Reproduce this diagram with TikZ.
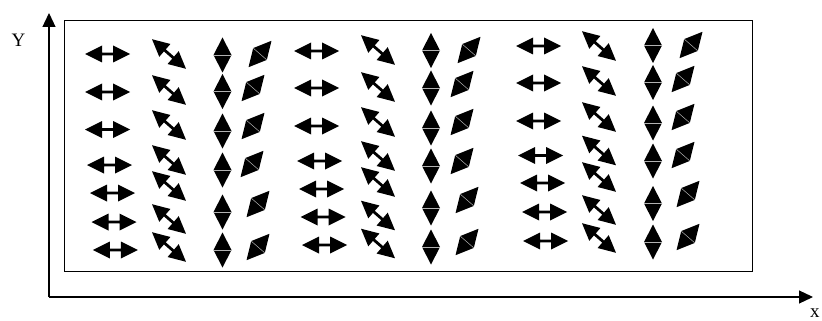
\documentclass[tikz,border=0pt]{standalone}
\usepackage{fontspec}
\setmainfont{Liberation Serif}
\usetikzlibrary{arrows.meta}
\tikzset{
  dblarrow/.pic={\fill (-22.5,0) -- (-5.5,8.5) -- (-5.5,1.4) -- (5.5,1.4) -- (5.5,8.5) -- (22.5,0)
      -- (5.5,-8.5) -- (5.5,-1.4) -- (-5.5,-1.4) -- (-5.5,-8.5) -- cycle;},
  diamondglyph/.pic={\fill (0,-17.5) -- (9,0) -- (0,17.5) -- (-9,0) -- cycle;
      \draw[gray!60, line width=0.5pt] (-9,0) -- (9,0);},
  axis/.style={line width=1.2pt, -{Triangle[length=14pt,width=13pt]}},
  frame/.style={line width=1pt},
  axlabel/.style={font=\fontsize{19}{19}\selectfont, inner sep=0pt}
}
\begin{document}
\begin{tikzpicture}[x=1pt, y=-1pt]
\useasboundingbox (0,0) rectangle (822,321);
\coordinate (origin) at (49,297);
\coordinate (ytip) at (49,13);
\coordinate (xtip) at (813,297);
\draw[axis] (origin) -- (ytip);
\draw[axis] (origin) -- (xtip);
\node[axlabel] (ylab) at (18.5,40) {Y};
\node[axlabel, anchor=north west] (xlab) at (810,309) {x};
\draw[frame] (64,21) rectangle (752,271);
% horizontal double arrows
\foreach \x/\y in {107.5/54, 107.5/92, 107.5/129.5, 109.5/165, 112.5/193, 114/222, 115.3/250,
                   316.5/51, 316.5/88, 316.5/126, 319.5/161, 321.5/189, 323/217, 324.5/245,
                   538.5/46, 538.5/83, 538.5/121, 540.5/155.5, 542.5/183, 544.5/212, 545.5/241}
  \pic at (\x,\y) {dblarrow};
% diagonal double arrows
\foreach \x/\y in {169/54, 169/90, 169/125, 169/160, 169/186, 169/219, 169/247,
                   378/50, 378/87, 378/122, 378/156, 378/182, 378/215.5, 378/243.5,
                   599/46, 599/81, 599/117, 599/150.5, 599/177, 599/210, 599/238}
  \pic[rotate=-41] at (\x,\y) {dblarrow};
% vertical diamonds
\foreach \x/\y in {222.5/55, 222.5/91.5, 222.5/131, 222.5/170, 222.5/212, 222.5/250,
                   431/50.5, 431/88, 431/128, 431/166, 431/208, 431/247,
                   653/45.5, 653/82.5, 653/123, 653/161, 653/203.5, 653/242}
  \pic at (\x,\y) {diamondglyph};
% tilted diamonds
\foreach \x/\y in {260/54, 253/88, 253/126, 252/164, 258/204, 258/247,
                   469/50, 462/84, 462/122, 462/161, 467/200, 467/242,
                   691/45, 683/79, 683/117, 683/155, 688/194, 688/237}
  \pic[rotate=-41] at (\x,\y) {diamondglyph};
\end{tikzpicture}
\end{document}
